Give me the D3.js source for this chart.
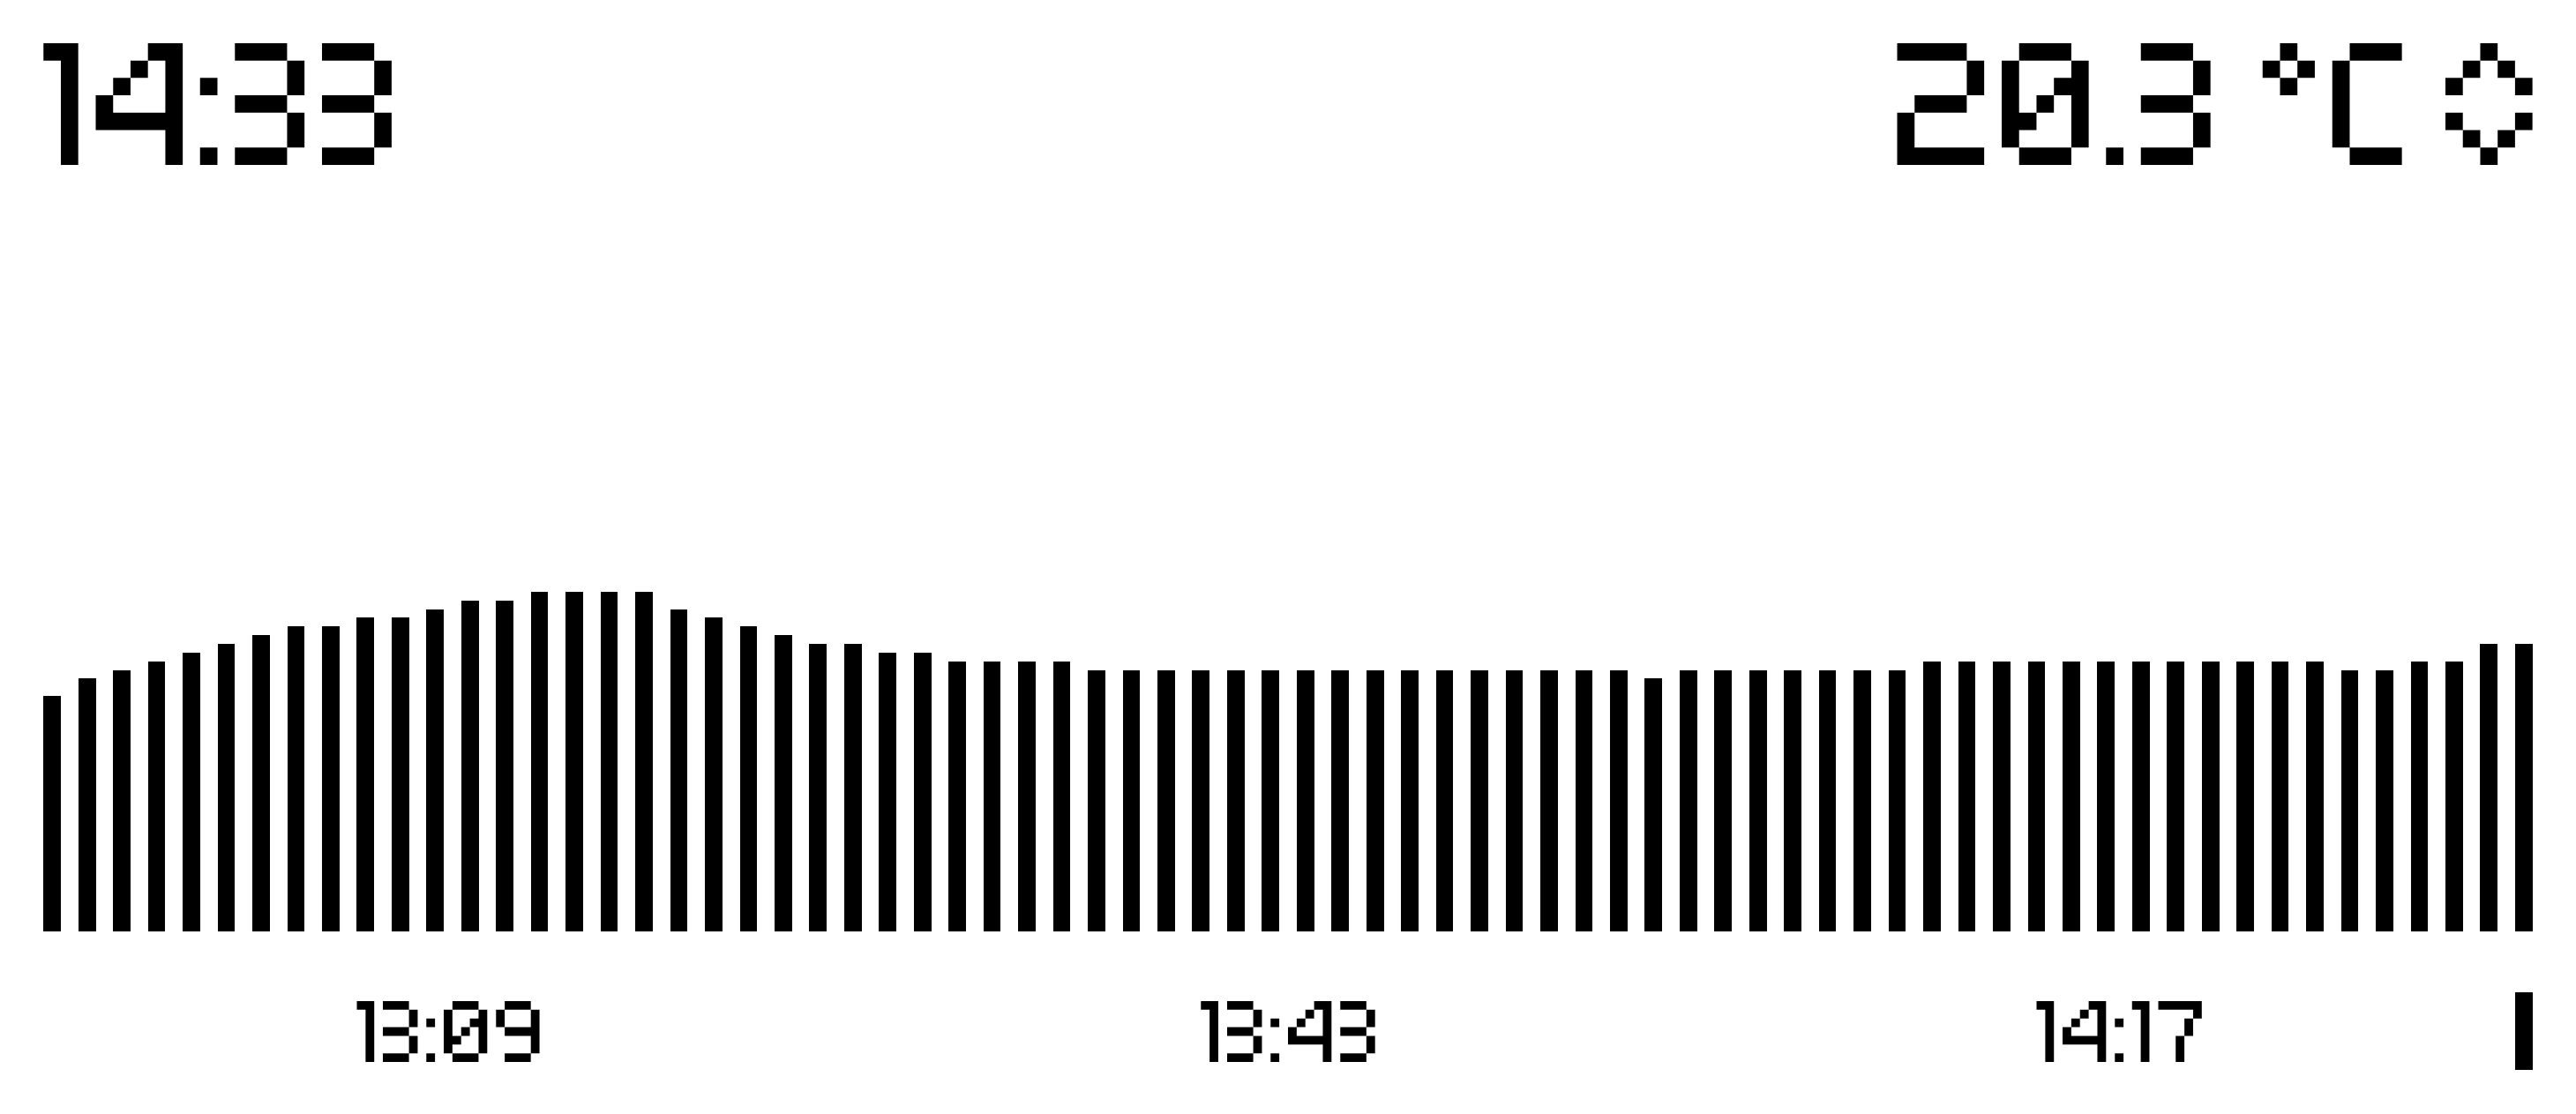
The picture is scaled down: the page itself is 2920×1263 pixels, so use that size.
<!DOCTYPE html>
<html>
<head>
<meta charset="utf-8">
<title>14:33</title>
<script src="https://cdn.jsdelivr.net/npm/d3@7"></script>
<style>
    html, body { margin: 0; padding: 0; background: #fff; }
    svg { display: block; }
    text { text-rendering: geometricPrecision; }
</style>
</head>
<body>
<div id="grafico"></div>
<script>
const clockText = "14:33";
const tempText = "20.3 °C";
const statusText = "◇";
const tickLabels = ["13:09", "13:43", "14:17"];
const tickBars = [12, 36, 60];
const cursorBar = 71;
const barLevels = [
    27, 29, 30, 31, 32, 33, 34, 35, 35, 36, 36, 37, 38, 38, 39, 39, 39, 39,
    37, 36, 35, 34, 33, 33, 32, 32, 31, 31, 31, 31,
    30, 30, 30, 30, 30, 30, 30, 30, 30, 30, 30, 30, 30, 30, 30, 30,
    29, 30, 30, 30, 30, 30, 30, 30,
    31, 31, 31, 31, 31, 31, 31, 31, 31, 31, 31, 31,
    30, 30, 31, 31, 33, 33
];

// the display's pixel font, the picture uses no installed face
const pixelGlyphs = {
    " ": ["  "],
    "0": [" ### ", "#   #", "#  ##", "# # #", "##  #", "#   #", " ### "],
    "1": ["##", " #", " #", " #", " #", " #", " #"],
    "2": ["#### ", "    #", "    #", " ### ", "#    ", "#    ", "#####"],
    "3": ["### ", "   #", "   #", "### ", "   #", "   #", "### "],
    "4": ["   ##", "  # #", " #  #", "#   #", "#####", "    #", "    #"],
    "7": ["#####", "    #", "   # ", "   # ", "  #  ", "  #  ", "  #  "],
    "9": [" ### ", "#   #", "#   #", " ####", "    #", "    #", " ### "],
    ":": [" ", " ", "#", " ", " ", " ", "#"],
    ".": [" ", " ", " ", " ", " ", " ", "#"],
    "°": [" # ", "# #", " # ", "   ", "   ", "   ", "   "],
    "C": [" ###", "#   ", "#   ", "#   ", "#   ", "#   ", " ###"],
    "◇": ["  #  ", " # # ", "#   #", "     ", "#   #", " # # ", "  #  "]
};

const u = 2920 / 296;
const width = 2920;
const height = 1263;
const cell = 100;

const u16 = v => [(v >> 8) & 255, v & 255];
const u32 = v => [(v >>> 24) & 255, (v >>> 16) & 255, (v >>> 8) & 255, v & 255];
const zeros = n => new Array(n).fill(0);
const utf16 = s => Array.from(s).flatMap(c => u16(c.charCodeAt(0)));

// outline of the filled cells, clockwise, so neighbouring cells leave no seam
function glyphContours(rows) {
    let filled = (r, c) => rows[r] !== undefined && rows[r][c] === "#";
    let edges = new Map();
    let addEdge = function(x0, y0, x1, y1) {
        let key = x0 + "," + y0;
        if (!edges.has(key)) edges.set(key, []);
        edges.get(key).push([x1, y1]);
    };
    rows.forEach(function(row, r) {
        Array.from(row).forEach(function(ch, c) {
            if (ch !== "#") return;
            let y = 6 - r;
            if (!filled(r, c - 1)) addEdge(c, y, c, y + 1);
            if (!filled(r - 1, c)) addEdge(c, y + 1, c + 1, y + 1);
            if (!filled(r, c + 1)) addEdge(c + 1, y + 1, c + 1, y);
            if (!filled(r + 1, c)) addEdge(c + 1, y, c, y);
        });
    });
    let contours = [];
    edges.forEach(function(list, key) {
        while (list.length) {
            let start = key.split(",").map(Number);
            let points = [start];
            let next = list.pop();
            while (next[0] !== start[0] || next[1] !== start[1]) {
                points.push(next);
                next = edges.get(next[0] + "," + next[1]).pop();
            }
            // only the corners are kept
            let corners = points.filter(function(p, i) {
                let a = points[(i + points.length - 1) % points.length];
                let b = points[(i + 1) % points.length];
                return !((a[0] === p[0] && b[0] === p[0]) || (a[1] === p[1] && b[1] === p[1]));
            });
            contours.push(corners.map(p => [p[0] * cell, p[1] * cell]));
        }
    });
    return contours;
}

function glyphBytes(contours) {
    if (!contours.length) return [];
    let all = contours.flat();
    let out = [...u16(contours.length),
        ...u16(d3.min(all, p => p[0])), ...u16(d3.min(all, p => p[1])),
        ...u16(d3.max(all, p => p[0])), ...u16(d3.max(all, p => p[1]))];
    let end = -1;
    contours.forEach(function(c) {
        end += c.length;
        out.push(...u16(end));
    });
    out.push(...u16(0));
    out.push(...new Array(all.length).fill(1));
    let dx = [], dy = [], px = 0, py = 0;
    all.forEach(function(p) {
        dx.push(...u16(p[0] - px));
        dy.push(...u16(p[1] - py));
        px = p[0];
        py = p[1];
    });
    out.push(...dx, ...dy);
    while (out.length % 4) out.push(0);
    return out;
}

function buildFont() {
    let chars = Object.keys(pixelGlyphs).sort((a, b) => a.codePointAt(0) - b.codePointAt(0));
    // glyph 0 and 1 are both empty, .notdef and .null
    let glyf = [], loca = [...u32(0), ...u32(0), ...u32(0)], hmtx = [...u16(500), ...u16(0), ...u16(500), ...u16(0)];
    let maxContours = 0, maxPoints = 0;
    chars.forEach(function(c) {
        let rows = pixelGlyphs[c];
        let contours = glyphContours(rows);
        let all = contours.flat();
        glyf.push(...glyphBytes(contours));
        loca.push(...u32(glyf.length));
        // a glyph is followed by one blank column, the space is only two wide
        let adv = c === " " ? 200 : (rows[0].length + 1) * cell;
        hmtx.push(...u16(adv), ...u16(all.length ? d3.min(all, p => p[0]) : 0));
        maxContours = Math.max(maxContours, contours.length);
        maxPoints = Math.max(maxPoints, all.length);
    });
    let numGlyphs = chars.length + 2;

    let codes = chars.map(c => c.charCodeAt(0)).concat([0xFFFF]);
    let seg = codes.length;
    let entry = Math.floor(Math.log2(seg));
    let sub = [...u16(seg * 2), ...u16(2 * 2 ** entry), ...u16(entry), ...u16(seg * 2 - 2 * 2 ** entry),
        ...codes.flatMap(u16), ...u16(0), ...codes.flatMap(u16),
        ...codes.flatMap((c, i) => u16(c === 0xFFFF ? 1 : (i + 2 - c) & 0xFFFF)),
        ...codes.flatMap(() => u16(0))];
    let cmap = [...u16(0), ...u16(1), ...u16(3), ...u16(1), ...u32(12),
        ...u16(4), ...u16(sub.length + 6), ...u16(0), ...sub];

    let head = [...u32(0x00010000), ...u32(0x00010000), ...u32(0), ...u32(0x5F0F3CF5),
        ...u16(11), ...u16(1000), ...zeros(16),
        ...u16(0), ...u16(0), ...u16(500), ...u16(700),
        ...u16(0), ...u16(8), ...u16(2), ...u16(1), ...u16(0)];
    let hhea = [...u32(0x00010000), ...u16(800), ...u16(-200 & 0xFFFF), ...u16(0),
        ...u16(700), ...u16(0), ...u16(0), ...u16(500),
        ...u16(1), ...u16(0), ...u16(0), ...zeros(8), ...u16(0), ...u16(numGlyphs)];
    let maxp = [...u32(0x00010000), ...u16(numGlyphs), ...u16(maxPoints), ...u16(maxContours),
        ...u16(0), ...u16(0), ...u16(2), ...zeros(16)];
    let os2 = [...u16(0), ...u16(500), ...u16(400), ...u16(5), ...u16(0), ...zeros(20), ...u16(0), ...zeros(10),
        ...zeros(16), 80, 73, 88, 76, ...u16(0x40), ...u16(32), ...u16(0x25C7),
        ...u16(800), ...u16(-200 & 0xFFFF), ...u16(0), ...u16(800), ...u16(200)];
    let post = [...u32(0x00030000), ...zeros(28)];

    let nameText = ["Pixel", "Regular", "Pixel", "Pixel-Regular"].map(utf16);
    let nameIds = [1, 2, 4, 6];
    let records = [], strings = [];
    nameText.forEach(function(s, i) {
        records.push(...u16(3), ...u16(1), ...u16(0x409), ...u16(nameIds[i]), ...u16(s.length), ...u16(strings.length));
        strings.push(...s);
    });
    let name = [...u16(0), ...u16(4), ...u16(6 + records.length), ...records, ...strings];

    let tables = [["OS/2", os2], ["cmap", cmap], ["glyf", glyf], ["head", head], ["hhea", hhea],
        ["hmtx", hmtx], ["loca", loca], ["maxp", maxp], ["name", name], ["post", post]];
    let n = tables.length;
    let e = Math.floor(Math.log2(n));
    let dir = [...u32(0x00010000), ...u16(n), ...u16(16 * 2 ** e), ...u16(e), ...u16(n * 16 - 16 * 2 ** e)];
    let body = [];
    let offset = 12 + n * 16;
    tables.forEach(function(t) {
        dir.push(...Array.from(t[0]).map(c => c.charCodeAt(0)), ...u32(0), ...u32(offset + body.length), ...u32(t[1].length));
        body.push(...t[1]);
        while (body.length % 4) body.push(0);
    });
    return new Uint8Array(dir.concat(body)).buffer;
}

function drawChart() {
    let svg = d3.select("#grafico").append("svg").attr("width", width).attr("height", height);
    svg.append("rect").attr("width", width).attr("height", height).attr("fill", "#fff");

    let x = d3.scaleBand().domain(d3.range(barLevels.length)).range([5 * u, 291 * u]).paddingInner(0.5).paddingOuter(0);
    let y = d3.scaleLinear().domain([0, d3.max(barLevels)]).range([107 * u, 68 * u]);

    svg.append("g").selectAll("rect").data(barLevels).enter().append("rect")
        .attr("x", (d, i) => x(i))
        .attr("y", d => y(d))
        .attr("width", x.bandwidth())
        .attr("height", d => y(0) - y(d))
        .attr("shape-rendering", "crispEdges")
        .attr("fill", "#000");

    // marker under the newest bar
    svg.append("rect")
        .attr("x", x(cursorBar))
        .attr("y", 114 * u)
        .attr("width", x.bandwidth())
        .attr("height", 9 * u)
        .attr("shape-rendering", "crispEdges")
        .attr("fill", "#000");

    let axis = svg.append("g").call(
        d3.axisBottom(x).tickValues(tickBars).tickFormat((d, i) => tickLabels[i]).tickSize(0).offset(0)
    );
    axis.select(".domain").remove();
    axis.selectAll(".tick line").remove();
    axis.attr("font-family", null).attr("font-size", null);
    axis.selectAll(".tick text")
        .attr("font-family", "Pixel")
        .attr("font-size", 10 * u)
        .attr("fill", "#000")
        .attr("text-anchor", "start")
        .attr("y", 122 * u)
        .attr("dy", 0)
        .attr("x", function(d) {
            let cx = x(d) + x.bandwidth() / 2;
            let cols = Math.round(this.getComputedTextLength() / u);
            return Math.ceil(cx / u - 2 - cols / 2 - 0.01) * u - cx;
        });

    let titles = [
        { text: clockText, col: 5 },
        { text: tempText, col: 218 },
        { text: statusText, col: 281 }
    ];
    svg.append("g").selectAll("text").data(titles).enter().append("text")
        .attr("x", d => d.col * u)
        .attr("y", 19 * u)
        .attr("font-family", "Pixel")
        .attr("font-size", 20 * u)
        .attr("fill", "#000")
        .style("white-space", "pre")
        .text(d => d.text);
}

let pixelFace = new FontFace("Pixel", buildFont());
pixelFace.load().then(function(face) {
    document.fonts.add(face);
    drawChart();
}).catch(function(err) {
    console.error(err);
    drawChart();
});
</script>
</body>
</html>
